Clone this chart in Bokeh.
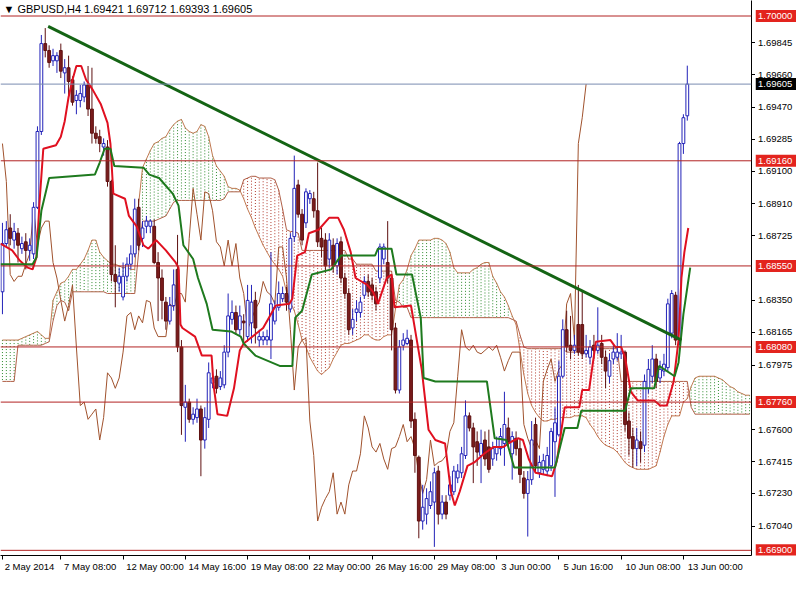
import numpy as np
from bokeh.plotting import figure
from bokeh.layouts import row
from bokeh.models import (ColumnDataSource, FixedTicker, Range1d, Label, Span, LinearAxis)
from bokeh.core.properties import value
from bokeh.embed import file_html
from bokeh.resources import INLINE

# ---------------- data (GBPUSD H4) ----------------
bars = list(range(177))
opens = [
1.6840, 1.6868, 1.6877, 1.6870, 1.6874, 1.6865, 1.6869, 1.6864, 1.6862, 1.6889,
1.6933, 1.6984, 1.6980, 1.6974, 1.6974, 1.6980, 1.6967, 1.6970, 1.6963, 1.6951,
1.6951, 1.6953, 1.6960, 1.6946, 1.6932, 1.6930, 1.6924, 1.6924, 1.6904, 1.6850,
1.6845, 1.6837, 1.6849, 1.6856, 1.6862, 1.6889, 1.6871, 1.6878, 1.6878, 1.6878,
1.6857, 1.6848, 1.6834, 1.6823, 1.6832, 1.6853, 1.6808, 1.6773, 1.6776, 1.6766,
1.6767, 1.6772, 1.6754, 1.6766, 1.6787, 1.6791, 1.6785, 1.6786, 1.6805, 1.6824,
1.6828, 1.6818, 1.6823, 1.6814, 1.6822, 1.6835, 1.6812, 1.6812, 1.6812, 1.6812,
1.6823, 1.6831, 1.6836, 1.6839, 1.6830, 1.6872, 1.6902, 1.6885, 1.6880, 1.6894,
1.6894, 1.6887, 1.6871, 1.6870, 1.6859, 1.6867, 1.6855, 1.6869, 1.6848, 1.6839,
1.6819, 1.6828, 1.6828, 1.6838, 1.6846, 1.6844, 1.6840, 1.6848, 1.6859, 1.6857,
1.6848, 1.6819, 1.6783, 1.6809, 1.6810, 1.6812, 1.6766, 1.6744, 1.6707, 1.6711,
1.6716, 1.6718, 1.6736, 1.6711, 1.6718, 1.6722, 1.6724, 1.6732, 1.6735, 1.6745,
1.6768, 1.6761, 1.6753, 1.6745, 1.6754, 1.6750, 1.6743, 1.6746, 1.6749, 1.6752,
1.6761, 1.6746, 1.6755, 1.6749, 1.6732, 1.6723, 1.6731, 1.6763, 1.6735, 1.6737,
1.6736, 1.6739, 1.6753, 1.6757, 1.6791, 1.6818, 1.6809, 1.6806, 1.6821, 1.6821,
1.6804, 1.6802, 1.6809, 1.6806, 1.6810, 1.6802, 1.6791, 1.6801, 1.6802, 1.6804,
1.6805, 1.6765, 1.6756, 1.6749, 1.6753, 1.6751, 1.6784, 1.6791, 1.6801, 1.6790,
1.6794, 1.6796, 1.6816, 1.6838, 1.6812, 1.6926, 1.69421]
highs = [
1.6880, 1.6881, 1.6885, 1.6880, 1.6877, 1.6872, 1.6874, 1.6871, 1.6892, 1.6936,
1.6989, 1.6993, 1.6983, 1.6981, 1.6979, 1.6984, 1.6975, 1.6977, 1.6965, 1.6957,
1.6960, 1.6962, 1.6971, 1.6970, 1.6936, 1.6934, 1.6929, 1.6928, 1.6905, 1.6867,
1.6854, 1.6857, 1.6860, 1.6867, 1.6894, 1.6894, 1.6881, 1.6884, 1.6882, 1.6882,
1.6863, 1.6853, 1.6837, 1.6837, 1.6853, 1.6873, 1.6812, 1.6786, 1.6778, 1.6773,
1.6778, 1.6774, 1.6773, 1.6799, 1.6796, 1.6795, 1.6794, 1.6809, 1.6839, 1.6835,
1.6832, 1.6832, 1.6827, 1.6844, 1.6844, 1.6840, 1.6818, 1.6817, 1.6818, 1.6863,
1.6835, 1.6846, 1.6843, 1.6843, 1.6874, 1.6919, 1.6905, 1.6888, 1.6900, 1.6899,
1.6898, 1.6915, 1.6877, 1.6874, 1.6874, 1.6871, 1.6871, 1.6872, 1.6851, 1.6842,
1.6830, 1.6835, 1.6837, 1.6849, 1.6850, 1.6848, 1.6843, 1.6868, 1.6868, 1.6881,
1.6850, 1.6822, 1.6812, 1.6816, 1.6818, 1.6815, 1.6770, 1.6745, 1.6728, 1.6726,
1.6730, 1.6738, 1.6739, 1.6722, 1.6722, 1.6733, 1.6739, 1.6740, 1.6750, 1.6777,
1.6770, 1.6764, 1.6759, 1.6760, 1.6759, 1.6760, 1.6753, 1.6756, 1.6761, 1.6782,
1.6767, 1.6759, 1.6759, 1.6754, 1.6736, 1.6736, 1.6765, 1.6767, 1.6745, 1.6746,
1.6750, 1.6761, 1.6773, 1.6800, 1.6824, 1.6829, 1.6826, 1.6815, 1.6844, 1.6840,
1.6815, 1.6812, 1.6815, 1.6831, 1.6815, 1.6806, 1.6804, 1.6809, 1.6816, 1.6815,
1.6806, 1.6770, 1.6761, 1.6761, 1.6759, 1.6792, 1.6801, 1.6809, 1.6804, 1.6800,
1.6804, 1.6836, 1.6841, 1.6840, 1.6927, 1.6943, 1.69712]
lows = [
1.6827, 1.6866, 1.6867, 1.6865, 1.6857, 1.6862, 1.6853, 1.6858, 1.6859, 1.6888,
1.6931, 1.6976, 1.6970, 1.6971, 1.6967, 1.6964, 1.6955, 1.6953, 1.6948, 1.6943,
1.6947, 1.6950, 1.6942, 1.6926, 1.6926, 1.6921, 1.6919, 1.6901, 1.6846, 1.6831,
1.6840, 1.6835, 1.6846, 1.6853, 1.6860, 1.6864, 1.6866, 1.6874, 1.6874, 1.6856,
1.6823, 1.6824, 1.6818, 1.6821, 1.6829, 1.6805, 1.6757, 1.6753, 1.6764, 1.6763,
1.6764, 1.6733, 1.6749, 1.6761, 1.6784, 1.6781, 1.6783, 1.6784, 1.6802, 1.6821,
1.6815, 1.6815, 1.6810, 1.6811, 1.6810, 1.6810, 1.6808, 1.6809, 1.6809, 1.6801,
1.6821, 1.6829, 1.6834, 1.6829, 1.6828, 1.6869, 1.6883, 1.6867, 1.6877, 1.6891,
1.6883, 1.6866, 1.6860, 1.6851, 1.6854, 1.6851, 1.6850, 1.6845, 1.6836, 1.6815,
1.6815, 1.6823, 1.6825, 1.6836, 1.6837, 1.6835, 1.6829, 1.6845, 1.6856, 1.6845,
1.6806, 1.6781, 1.6781, 1.6806, 1.6809, 1.6761, 1.6735, 1.6697, 1.6702, 1.6705,
1.6714, 1.6692, 1.6705, 1.6708, 1.6708, 1.6719, 1.6722, 1.6729, 1.6732, 1.6743,
1.6759, 1.6729, 1.6739, 1.6729, 1.6739, 1.6735, 1.6739, 1.6742, 1.6745, 1.6739,
1.6750, 1.6731, 1.6745, 1.6729, 1.6720, 1.6698, 1.6728, 1.6735, 1.6732, 1.6734,
1.6733, 1.6736, 1.6721, 1.6756, 1.6790, 1.6805, 1.6801, 1.6804, 1.6803, 1.6801,
1.6802, 1.6798, 1.6801, 1.6804, 1.6798, 1.6784, 1.6787, 1.6798, 1.6800, 1.6801,
1.6759, 1.6745, 1.6738, 1.6739, 1.6741, 1.6747, 1.6781, 1.6787, 1.6784, 1.6787,
1.6791, 1.6794, 1.6813, 1.6809, 1.6809, 1.6920, 1.69393]
closes = [
1.6868, 1.6876, 1.6871, 1.6875, 1.6867, 1.6868, 1.6864, 1.6867, 1.6889, 1.6933,
1.6984, 1.6980, 1.6973, 1.6977, 1.6977, 1.6968, 1.6970, 1.6962, 1.6950, 1.6954,
1.6955, 1.6960, 1.6946, 1.6932, 1.6929, 1.6926, 1.6926, 1.6904, 1.6850, 1.6846,
1.6849, 1.6849, 1.6856, 1.6862, 1.6888, 1.6867, 1.6877, 1.6881, 1.6881, 1.6857,
1.6848, 1.6835, 1.6823, 1.6832, 1.6844, 1.6808, 1.6774, 1.6776, 1.6766, 1.6769,
1.6772, 1.6754, 1.6767, 1.6793, 1.6790, 1.6784, 1.6790, 1.6805, 1.6826, 1.6828,
1.6818, 1.6826, 1.6822, 1.6835, 1.6834, 1.6819, 1.6814, 1.6814, 1.6814, 1.6833,
1.6831, 1.6839, 1.6839, 1.6834, 1.6871, 1.6900, 1.6885, 1.6870, 1.6898, 1.6897,
1.6887, 1.6869, 1.6866, 1.6855, 1.6870, 1.6855, 1.6868, 1.6848, 1.6839, 1.6818,
1.6824, 1.6830, 1.6834, 1.6846, 1.6840, 1.6838, 1.6833, 1.6866, 1.6866, 1.6848,
1.6818, 1.6783, 1.6808, 1.6812, 1.6813, 1.6765, 1.6745, 1.6707, 1.6715, 1.6720,
1.6724, 1.6735, 1.6711, 1.6718, 1.6711, 1.6728, 1.6736, 1.6736, 1.6746, 1.6768,
1.6761, 1.6750, 1.6747, 1.6752, 1.6743, 1.6737, 1.6749, 1.6750, 1.6756, 1.6763,
1.6753, 1.6756, 1.6749, 1.6734, 1.6723, 1.6731, 1.6754, 1.6739, 1.6741, 1.6742,
1.6745, 1.6759, 1.6764, 1.6791, 1.6818, 1.6808, 1.6806, 1.6809, 1.6805, 1.6804,
1.6806, 1.6808, 1.6806, 1.6809, 1.6802, 1.6794, 1.6800, 1.6805, 1.6805, 1.6805,
1.6763, 1.6755, 1.6749, 1.6754, 1.6749, 1.6788, 1.6795, 1.6801, 1.6788, 1.6795,
1.6798, 1.6833, 1.6839, 1.6812, 1.6926, 1.6941, 1.69605]

# Ichimoku cloud (Senkou spans, shifted 26 bars ahead)
cloud_bars = list(range(193))
span_a = [
1.6812, 1.6812, 1.6812, 1.6812, 1.6812, 1.6813, 1.6814, 1.6815, 1.6816, 1.6817,
1.6815, 1.6813, 1.6813, 1.6835, 1.6840, 1.6845, 1.6846, 1.6849, 1.6853, 1.6853,
1.6856, 1.6859, 1.6864, 1.6870, 1.6870, 1.6863, 1.6860, 1.6858, 1.6856, 1.6856,
1.6855, 1.6854, 1.6854, 1.6853, 1.6853, 1.6891, 1.6912, 1.6917, 1.6922, 1.6926,
1.6927, 1.6929, 1.6930, 1.6934, 1.6937, 1.6939, 1.6940, 1.6935, 1.6933, 1.6932,
1.6933, 1.6937, 1.6936, 1.6930, 1.6919, 1.6913, 1.6910, 1.6907, 1.6901, 1.6900,
1.6900, 1.6899, 1.6894, 1.6888, 1.6883, 1.6877, 1.6872, 1.6867, 1.6863, 1.6859,
1.6856, 1.6853, 1.6849, 1.6840, 1.6834, 1.6829, 1.6821, 1.6812, 1.6808, 1.6802,
1.6798, 1.6794, 1.6792, 1.6794, 1.6796, 1.6801, 1.6805, 1.6809, 1.6810, 1.6810,
1.6811, 1.6812, 1.6813, 1.6815, 1.6815, 1.6813, 1.6812, 1.6812, 1.6814, 1.6815,
1.6815, 1.6830, 1.6844, 1.6847, 1.6853, 1.6861, 1.6865, 1.6870, 1.6870, 1.6870,
1.6870, 1.6871, 1.6871, 1.6870, 1.6868, 1.6863, 1.6854, 1.6851, 1.6851, 1.6851,
1.6851, 1.6853, 1.6854, 1.6856, 1.6857, 1.6857, 1.6849, 1.6845, 1.6840, 1.6837,
1.6832, 1.6826, 1.6821, 1.6806, 1.6792, 1.6781, 1.6774, 1.6770, 1.6767, 1.6765,
1.6765, 1.6766, 1.6766, 1.6767, 1.6767, 1.6767, 1.6767, 1.6768, 1.6768, 1.6768,
1.6767, 1.6763, 1.6760, 1.6756, 1.6753, 1.6751, 1.6750, 1.6749, 1.6747, 1.6744,
1.6741, 1.6739, 1.6738, 1.6737, 1.6737, 1.6737, 1.6737, 1.6738, 1.6739, 1.6747,
1.6756, 1.6763, 1.6768, 1.6768, 1.6768, 1.6776, 1.6778, 1.6785, 1.6790, 1.6791,
1.6791, 1.6791, 1.6791, 1.6791, 1.6790, 1.6789, 1.6787, 1.6785, 1.6784, 1.6782,
1.6781, 1.6780, 1.6780]
span_b = [
1.6788, 1.6788, 1.6788, 1.6788, 1.6809, 1.6809, 1.6809, 1.6809, 1.6809, 1.6809,
1.6809, 1.6810, 1.6811, 1.6823, 1.6832, 1.6835, 1.6834, 1.6829, 1.6840, 1.6840,
1.6840, 1.6840, 1.6840, 1.6840, 1.6840, 1.6840, 1.6840, 1.6839, 1.6839, 1.6839,
1.6839, 1.6839, 1.6839, 1.6839, 1.6839, 1.6863, 1.6881, 1.6881, 1.6881, 1.6881,
1.6882, 1.6883, 1.6884, 1.6888, 1.6892, 1.6893, 1.6893, 1.6893, 1.6893, 1.6893,
1.6893, 1.6893, 1.6893, 1.6893, 1.6893, 1.6893, 1.6893, 1.6894, 1.6898, 1.6898,
1.6898, 1.6898, 1.6905, 1.6906, 1.6907, 1.6907, 1.6906, 1.6906, 1.6906, 1.6906,
1.6905, 1.6899, 1.6888, 1.6876, 1.6875, 1.6875, 1.6874, 1.6864, 1.6864, 1.6864,
1.6864, 1.6864, 1.6864, 1.6864, 1.6864, 1.6864, 1.6864, 1.6864, 1.6864, 1.6859,
1.6859, 1.6856, 1.6856, 1.6856, 1.6856, 1.6856, 1.6852, 1.6852, 1.6852, 1.6852,
1.6852, 1.6835, 1.6834, 1.6831, 1.6831, 1.6825, 1.6825, 1.6825, 1.6825, 1.6825,
1.6825, 1.6825, 1.6825, 1.6825, 1.6825, 1.6825, 1.6825, 1.6825, 1.6825, 1.6825,
1.6825, 1.6825, 1.6825, 1.6825, 1.6825, 1.6825, 1.6825, 1.6825, 1.6825, 1.6825,
1.6825, 1.6824, 1.6823, 1.6815, 1.6808, 1.6807, 1.6807, 1.6807, 1.6807, 1.6807,
1.6807, 1.6807, 1.6807, 1.6807, 1.6807, 1.6805, 1.6805, 1.6805, 1.6805, 1.6805,
1.6805, 1.6807, 1.6807, 1.6807, 1.6807, 1.6807, 1.6807, 1.6807, 1.6807, 1.6788,
1.6788, 1.6788, 1.6788, 1.6788, 1.6788, 1.6788, 1.6788, 1.6788, 1.6788, 1.6788,
1.6788, 1.6788, 1.6788, 1.6788, 1.6788, 1.6788, 1.6788, 1.6773, 1.6769, 1.6769,
1.6769, 1.6769, 1.6769, 1.6769, 1.6769, 1.6769, 1.6769, 1.6769, 1.6769, 1.6769,
1.6769, 1.6769, 1.6769]

# Tenkan-sen (red) vertices: bar position, price
tenkan_bar = [-0.5, 2.5, 4.5, 6.5, 7.75, 8.75, 9.5, 10.5, 13.75, 15, 16, 17, 18, 19, 20.25,
              21.5, 23.25, 25.25, 27, 27.75, 28.5, 31.5, 32.5, 34.5, 36.25, 37.5, 39.5, 42,
              44.5, 45.25, 45.75, 46.25, 49.5, 51.25, 53.75, 54.25, 55.25, 57.75, 59.5, 61,
              62, 67, 70.25, 73.75, 74.5, 75.75, 77.75, 78.75, 81.25, 84, 86.25, 87.75, 89.5,
              90.75, 93.75, 95.25, 96.5, 98.75, 100, 100.75, 105, 107.75, 109.5, 111.25,
              113.75, 115.25, 116.25, 117.5, 119.5, 121.25, 123.75, 126.25, 128.75, 130.75,
              132.5, 133.75, 135.25, 137, 141.25, 142.5, 144.5, 148.25, 149, 150.75, 152.5,
              156.25, 157.5, 159, 160, 161.5, 163.25, 167.5, 169, 170.75, 172.5, 173.75,
              174.5, 175.25, 176.25]
tenkan_val = [1.6868, 1.6864, 1.6858, 1.6854, 1.6853, 1.6860, 1.6891, 1.6923, 1.6925, 1.6930,
              1.6939, 1.6953, 1.6963, 1.6971, 1.6971, 1.6963, 1.6957, 1.6949, 1.6938, 1.6926,
              1.6897, 1.6894, 1.6884, 1.6878, 1.6867, 1.6865, 1.6870, 1.6864, 1.6857, 1.6854,
              1.6821, 1.6819, 1.6814, 1.6803, 1.6803, 1.6786, 1.6769, 1.6768, 1.6784, 1.6806,
              1.6810, 1.6819, 1.6832, 1.6833, 1.6836, 1.6861, 1.6863, 1.6874, 1.6876, 1.6883,
              1.6883, 1.6876, 1.6863, 1.6848, 1.6844, 1.6840, 1.6833, 1.6848, 1.6850, 1.6831,
              1.6832, 1.6795, 1.6760, 1.6754, 1.6752, 1.6724, 1.6716, 1.6724, 1.6739, 1.6741,
              1.6746, 1.6750, 1.6750, 1.6753, 1.6755, 1.6754, 1.6743, 1.6735, 1.6733, 1.6742,
              1.6773, 1.6773, 1.6783, 1.6783, 1.6811, 1.6812, 1.6808, 1.6808, 1.6802, 1.6782,
              1.6777, 1.6777, 1.6774, 1.6774, 1.6788, 1.6812, 1.6848, 1.6863, 1.6877]

# Kijun-sen (green) vertices
kijun_bar = [-0.5, 7.75, 8.75, 10, 12, 23.75, 25, 26.25, 27.75, 28.75, 36.25, 37.75, 40.25,
             43.75, 45.25, 46.5, 49, 50.25, 52.5, 54, 58.75, 61.25, 62, 65, 71.25, 74.5, 75.25,
             77, 79.5, 84.5, 87, 95.75, 96.5, 100, 101.25, 105.25, 107.5, 108.25, 111.25,
             124.5, 126.5, 129.5, 131.5, 142, 144.5, 147.75, 148.75, 160, 161.5, 167.5,
             168.75, 172.75, 173.75, 175, 176.75]
kijun_val = [1.6856, 1.6856, 1.6860, 1.6887, 1.6906, 1.6908, 1.6915, 1.6923, 1.6923, 1.6913,
             1.6912, 1.6908, 1.6906, 1.6897, 1.6890, 1.6867, 1.6859, 1.6848, 1.6833, 1.6818,
             1.6817, 1.6814, 1.6810, 1.6803, 1.6797, 1.6797, 1.6825, 1.6829, 1.6850, 1.6853,
             1.6861, 1.6861, 1.6865, 1.6865, 1.6850, 1.6850, 1.6825, 1.6790, 1.6788, 1.6788,
             1.6755, 1.6754, 1.6738, 1.6738, 1.6761, 1.6761, 1.6771, 1.6771, 1.6784, 1.6784,
             1.6797, 1.6791, 1.6799, 1.6827, 1.6854]

# Chikou span lag and hand-drawn trend line
chikou_lag = 26
trend_bar = [11.75, 174.5]
trend_val = [1.6994, 1.6812]

# Horizontal levels
levels = [1.70000, 1.69160, 1.68550, 1.68080, 1.67760, 1.66900]
last_price = 1.69605

# Axis ticks
y_ticks = [1.69845, 1.69660, 1.69470, 1.69285, 1.69100, 1.68910, 1.68725, 1.68350,
           1.68165, 1.67975, 1.67600, 1.67415, 1.67230, 1.67040]
x_ticks = [0, 15, 31, 47, 63, 79, 95, 111, 127, 143, 159, 175]
x_labels = ["2 May 2014", "7 May 08:00", "12 May 00:00", "14 May 16:00", "19 May 08:00",
            "22 May 00:00", "26 May 16:00", "29 May 08:00", "3 Jun 00:00", "5 Jun 16:00",
            "10 Jun 08:00", "13 Jun 00:00"]
title_text = "\u25bc GBPUSD,H4  1.69421 1.69712 1.69393 1.69605"

# ---------------- layout constants ----------------
FONT = "Liberation Sans"
FS = "9.5px"
H = 577
W_MAIN = 755
W_SCALE = 41
BOTTOM = 22
X0, X1 = -0.5, 192.5
YR = Range1d(1.66870, 1.70090)

p = figure(width=W_MAIN, height=H, output_backend="svg", toolbar_location=None,
           x_range=Range1d(X0, X1), y_range=YR, y_axis_location="right",
           min_border_left=0, min_border_top=0, min_border_right=0,
           min_border_bottom=BOTTOM)
p.grid.visible = False
p.outline_line_color = None
p.background_fill_color = "white"
p.border_fill_color = "white"

# right axis: line + tick marks (its numbers are drawn in the scale strip)
yax = p.yaxis[0]
yax.ticker = FixedTicker(ticks=y_ticks)
yax.major_label_overrides = {t: "" for t in y_ticks}
yax.major_label_text_font_size = "1px"
yax.major_label_standoff = 0
yax.major_tick_in = 0
yax.major_tick_out = 4
yax.minor_tick_out = 0
yax.minor_tick_in = 0
yax.axis_line_color = "black"
yax.major_tick_line_color = "black"

# bottom axis: tick marks at the dates
xax = p.xaxis[0]
xax.ticker = FixedTicker(ticks=x_ticks)
xax.major_label_overrides = {t: "" for t in x_ticks}
xax.major_label_text_font_size = "1px"
xax.major_label_standoff = 0
xax.major_tick_in = 0
xax.major_tick_out = 4
xax.minor_tick_out = 0
xax.minor_tick_in = 0
xax.axis_line_color = "black"
xax.major_tick_line_color = "black"

# second bottom axis carrying the date texts, each starting just right of its tick
px_per_bar = (W_MAIN - 5) / (X1 - X0)
label_pos = [round(t + (len(s) * 4.8 / 2 + 3) / px_per_bar, 3) for t, s in zip(x_ticks, x_labels)]
lab_ax = LinearAxis(ticker=FixedTicker(ticks=label_pos),
                    major_label_overrides={pos: s for pos, s in zip(label_pos, x_labels)})
lab_ax.axis_line_color = None
lab_ax.major_tick_line_color = None
lab_ax.minor_tick_line_color = None
lab_ax.major_tick_out = 0
lab_ax.major_tick_in = 0
lab_ax.minor_tick_out = 0
lab_ax.minor_tick_in = 0
lab_ax.major_label_standoff = 1
lab_ax.major_label_text_font = FONT
lab_ax.major_label_text_font_size = FS
lab_ax.major_label_text_color = "black"
p.add_layout(lab_ax, "below")

# cloud hatch (dotted verticals per bar)
a = np.array(span_a)
b = np.array(span_b)
hatch_col = np.where(a >= b, "#2E8B2E", "#B03A2E")
hatch = ColumnDataSource(dict(x=cloud_bars, ya=a, yb=b, c=hatch_col))
p.segment(x0="x", y0="ya", x1="x", y1="yb", source=hatch, line_color="c",
          line_width=1, line_dash="1 2")
p.line(cloud_bars, span_a, line_color="#C07850", line_width=1)
p.line(cloud_bars, span_b, line_color="#B06048", line_width=1)

# chikou span
p.line(bars[:len(bars) - chikou_lag], closes[chikou_lag:], line_color="#A0522D", line_width=1)

# levels
for lv in levels:
    p.add_layout(Span(location=lv, dimension="width", line_color="#B22222", line_width=1))
p.add_layout(Span(location=last_price, dimension="width", line_color="#7A8CB0", line_width=1))

# candles
o = np.array(opens); c = np.array(closes); h = np.array(highs); l = np.array(lows)
bull = c >= o
col_line = np.where(bull, "#2222B8", "#5E1010")
col_fill = np.where(bull, "white", "#7A1C1C")
cs = ColumnDataSource(dict(x=bars, o=o, c=c, h=h, l=l, top=np.maximum(o, c),
                           bot=np.minimum(o, c), lc=col_line, fc=col_fill))
p.segment(x0="x", y0="h", x1="x", y1="l", source=cs, line_color="lc", line_width=1)
p.vbar(x="x", width=0.72, top="top", bottom="bot", source=cs, fill_color="fc",
       line_color="lc", line_width=1)

# tenkan / kijun
p.line(tenkan_bar, tenkan_val, line_color="#E01020", line_width=2)
p.line(kijun_bar, kijun_val, line_color="#1E7A1E", line_width=2)

# trend line
p.line(trend_bar, trend_val, line_color="#146414", line_width=3)

# title
p.add_layout(Label(x=X0, y=YR.end, x_offset=3, y_offset=-2, text=title_text,
                   text_font=FONT, text_font_size="11px", text_color="black",
                   text_baseline="top", text_align="left"))

# ---------------- price scale strip ----------------
s = figure(width=W_SCALE, height=H, output_backend="svg", toolbar_location=None,
           x_range=Range1d(0, 1), y_range=YR, x_axis_location=None, y_axis_location=None,
           min_border_left=0, min_border_top=0, min_border_right=0,
           min_border_bottom=BOTTOM)
s.grid.visible = False
s.outline_line_color = None
s.background_fill_color = "white"
s.border_fill_color = "white"

TX = 0.06
s.text(x=[TX] * len(y_ticks), y=y_ticks, text=["%.5f" % t for t in y_ticks],
       text_font=value(FONT), text_font_size=value(FS), text_color="black",
       text_baseline="middle", text_align="left")
box_y = levels + [last_price]
box_c = ["#E3241E"] * len(levels) + ["black"]
s.rect(x=[0.5] * len(box_y), y=box_y, width=1.0, height=12, height_units="screen",
       fill_color=box_c, line_color=None)
s.text(x=[TX] * len(box_y), y=box_y, text=["%.5f" % v for v in box_y],
       text_font=value(FONT), text_font_size=value(FS), text_color="white",
       text_baseline="middle", text_align="left")

layout = row(p, s)
open("out.html", "w").write(file_html(layout, INLINE))
